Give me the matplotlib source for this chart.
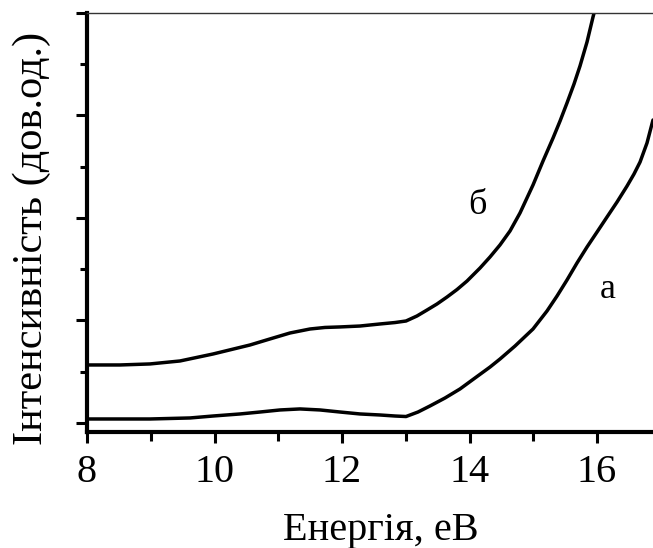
import matplotlib
matplotlib.use("Agg")
import matplotlib.pyplot as plt
from matplotlib.ticker import MultipleLocator, NullFormatter

# Photon energy (eV) and intensity (arb. units): spectrum "а"
energy_a = [8.000, 8.988, 9.616, 9.976, 10.400, 10.714, 11.027, 11.341, 11.655,
            11.969, 12.282, 12.596, 12.831, 13.004, 13.192, 13.380, 13.616,
            13.851, 14.086, 14.322, 14.478, 14.714, 14.996, 15.216, 15.373,
            15.529, 15.686, 15.843, 16.000, 16.157, 16.314, 16.471, 16.580,
            16.675, 16.784, 16.878]
intensity_a = [0.039, 0.039, 0.049, 0.068, 0.088, 0.107, 0.127, 0.137, 0.127,
               0.107, 0.088, 0.078, 0.068, 0.063, 0.107, 0.166, 0.244,
               0.332, 0.439, 0.546, 0.624, 0.751, 0.917, 1.093, 1.239,
               1.395, 1.561, 1.717, 1.863, 2.010, 2.156, 2.312, 2.429,
               2.546, 2.732, 2.956]

# Spectrum "б"
energy_b = [8.000, 8.518, 8.988, 9.459, 9.976, 10.557, 10.871, 11.184, 11.498,
            11.733, 11.969, 12.282, 12.596, 12.831, 13.004, 13.176, 13.333,
            13.490, 13.647, 13.804, 13.961, 14.165, 14.322, 14.478, 14.635,
            14.792, 14.996, 15.153, 15.310, 15.420, 15.529, 15.639,
            15.733, 15.843, 15.937, 16.047]
intensity_b = [0.566, 0.566, 0.576, 0.605, 0.673, 0.761, 0.820, 0.878, 0.917,
               0.932, 0.937, 0.946, 0.966, 0.980, 0.995, 1.044, 1.102,
               1.161, 1.229, 1.302, 1.385, 1.512, 1.620, 1.737, 1.873,
               2.049, 2.322, 2.556, 2.780, 2.946, 3.122, 3.307,
               3.483, 3.717, 3.961, 4.224]

curve_labels = ["а", "б"]
label_pos = [(16.16, 1.30), (14.12, 2.12)]

x_ticks = [8, 10, 12, 14, 16]

plt.rcParams['font.family'] = ['Liberation Serif', 'DejaVu Serif']

W, H = 653, 548
fig = plt.figure(figsize=(W / 100, H / 100), dpi=100)
ax = fig.add_axes([87 / W, (H - 432) / H, (W - 87) / W, (432 - 13) / H])

for xs, ys in [(energy_a, intensity_a), (energy_b, intensity_b)]:
    ax.plot(xs, ys, color='black', lw=2.5, solid_capstyle='round',
            solid_joinstyle='round')

for txt, (xx, yy) in zip(curve_labels, label_pos):
    ax.text(xx, yy, txt, fontsize=26, ha='center', va='center')

ax.set_xlim(8, 16.878)
ax.set_ylim(-0.088, 4.0)

ax.set_xticks(x_ticks)
ax.set_xticklabels([str(t) for t in x_ticks])
ax.xaxis.set_minor_locator(MultipleLocator(1))
ax.yaxis.set_major_locator(MultipleLocator(1))
ax.yaxis.set_minor_locator(MultipleLocator(0.5))
ax.yaxis.set_major_formatter(NullFormatter())

ax.tick_params(axis='both', which='major', direction='out', length=8, width=2.2,
               labelsize=29, pad=8, color='black')
ax.tick_params(axis='x', which='minor', direction='out', length=6.5, width=2.2,
               color='black')
ax.tick_params(axis='y', which='minor', direction='out', length=5, width=2.2,
               color='black')

ax.spines['right'].set_visible(False)
ax.spines['left'].set_linewidth(3)
ax.spines['bottom'].set_linewidth(3)
ax.spines['top'].set_linewidth(1.0)
ax.spines['top'].set_color('#333333')

fig.text(381 / W, 8 / H, "Енергія, еВ", fontsize=29, ha='center', va='baseline')
fig.text(42 / W, 1 - 238 / H, "Інтенсивність (дов.од.)", fontsize=30.5,
         rotation=90, rotation_mode='anchor', ha='center', va='baseline')

fig.savefig("out.png", dpi=100)
